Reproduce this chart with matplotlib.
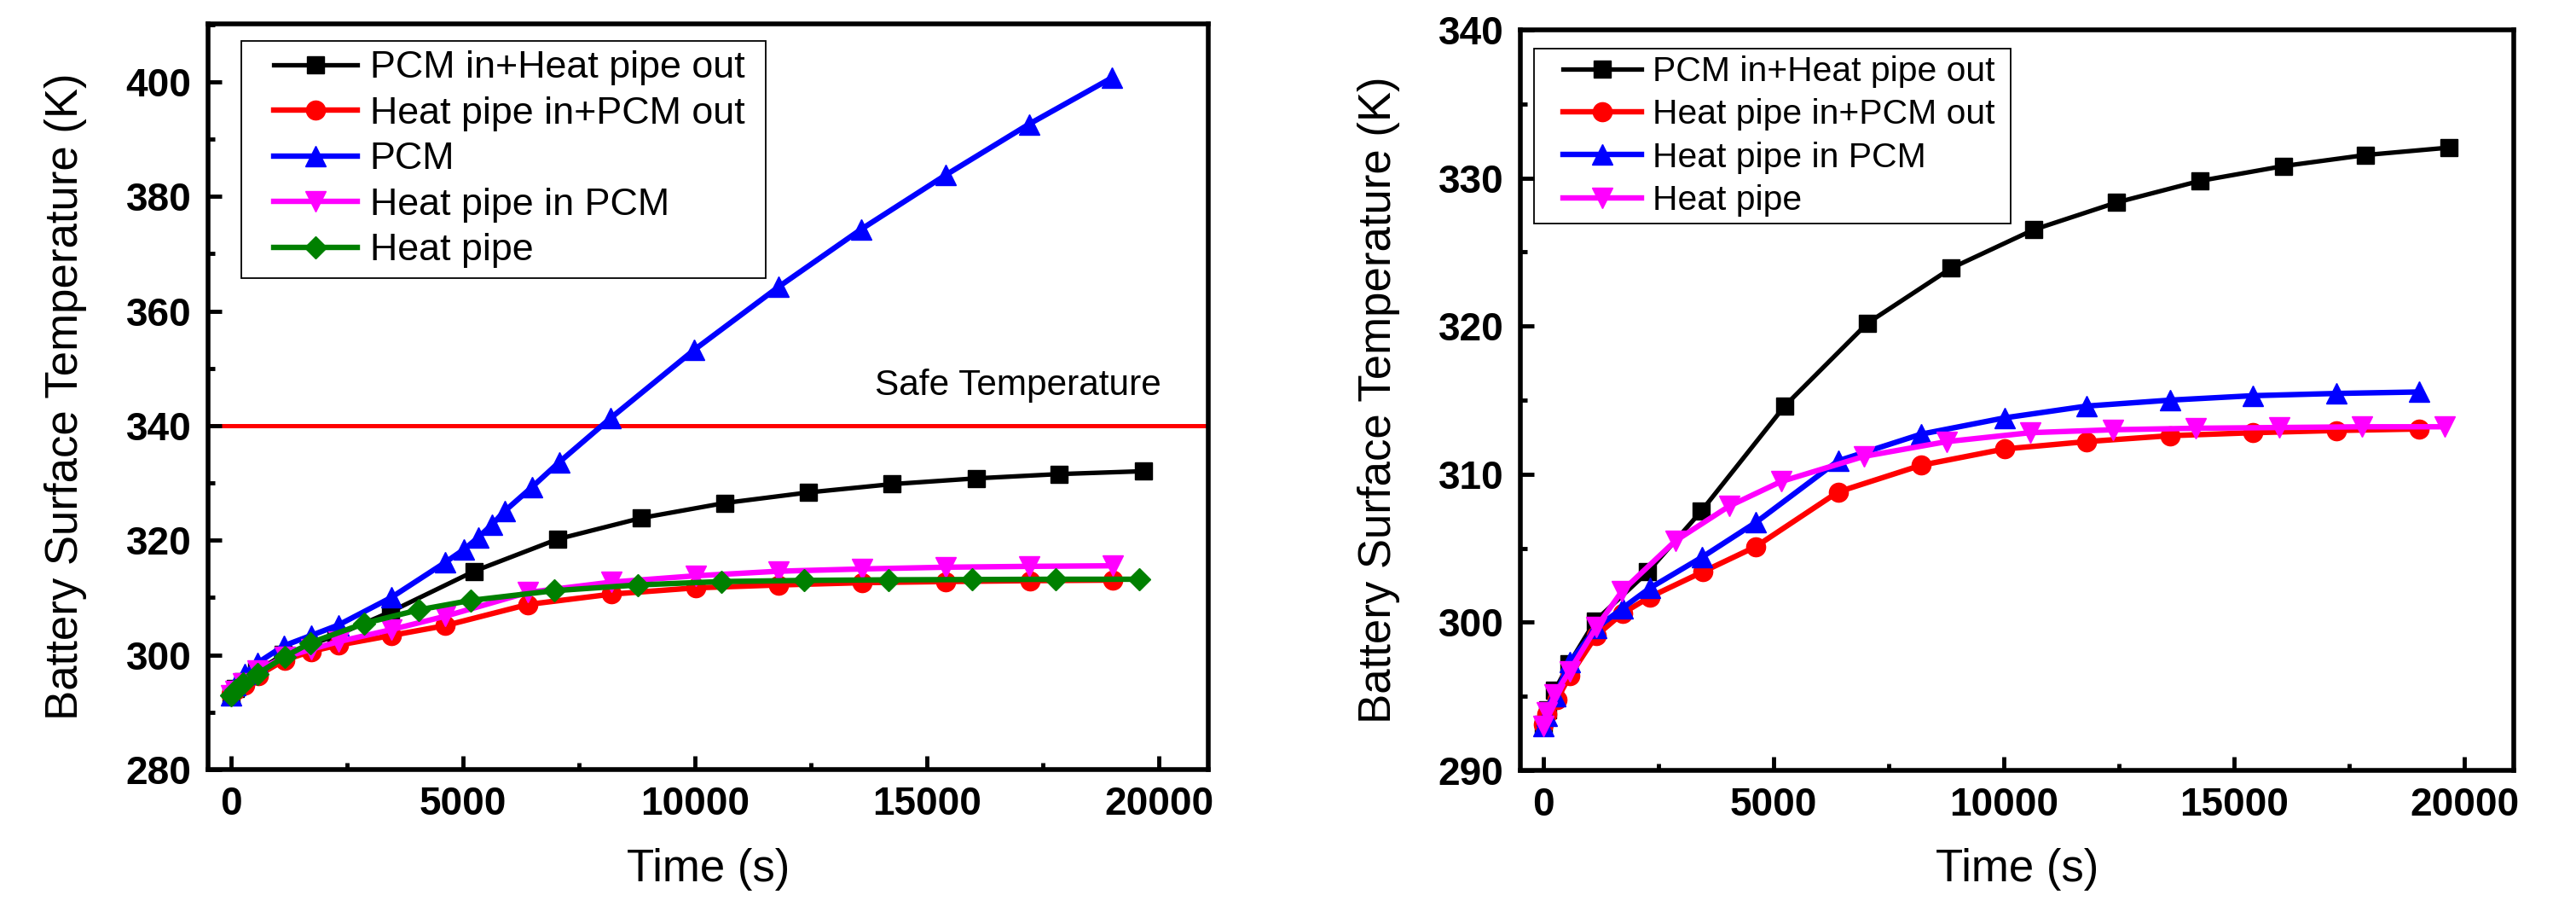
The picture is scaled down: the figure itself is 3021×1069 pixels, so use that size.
import matplotlib
matplotlib.use("Agg")
import matplotlib.pyplot as plt
from matplotlib.ticker import MultipleLocator
from matplotlib.patches import Rectangle

plt.rcParams['font.family'] = ['Liberation Sans', 'DejaVu Sans']

# ---------------- data ----------------
t_pcm_in_hp_out = [0, 100, 250, 560, 1130, 2270, 3430, 5240, 7040, 8850, 10640, 12450, 14250, 16060, 17850, 19660]
T_pcm_in_hp_out = [293.1, 294.1, 295.4, 297.2, 300.1, 303.4, 307.5, 314.6, 320.2, 323.9, 326.5, 328.35, 329.8, 330.8, 331.55, 332.05]

t_hp_in_pcm_out = [0, 85, 300, 580, 1150, 1720, 2310, 3460, 4610, 6400, 8200, 10010, 11800, 13610, 15410, 17220, 19010]
T_hp_in_pcm_out = [293.1, 293.8, 294.8, 296.4, 299.1, 300.6, 301.7, 303.4, 305.1, 308.8, 310.6, 311.7, 312.2, 312.6, 312.8, 312.95, 313.05]

t_pcm = [0, 100, 290, 570, 1140, 1730, 2310, 3450, 4610, 5020, 5330, 5620, 5900, 6490, 7070, 8180, 9980, 11800, 13590, 15400, 17200, 18990]
T_pcm = [293.0, 294.8, 296.7, 298.6, 301.6, 303.4, 305.2, 310.0, 316.1, 318.4, 320.5, 322.7, 325.1, 329.3, 333.6, 341.3, 353.2, 364.2, 374.3, 383.7, 392.6, 400.7]

t_hp_in_pcm = [0, 85, 260, 570, 1150, 1720, 2310, 3450, 4620, 6400, 8200, 10010, 11800, 13610, 15410, 17210, 19010]
T_hp_in_pcm = [293.0, 293.7, 295.0, 297.3, 299.6, 300.95, 302.3, 304.4, 306.75, 310.9, 312.7, 313.8, 314.6, 315.0, 315.3, 315.45, 315.55]

t_hp = [0, 85, 250, 570, 1150, 1710, 2870, 4040, 5160, 6960, 8760, 10570, 12360, 14170, 15980, 17780, 19570]
T_hp = [293.0, 293.9, 295.1, 296.7, 299.65, 302.1, 305.5, 307.85, 309.5, 311.2, 312.2, 312.8, 313.0, 313.1, 313.15, 313.2, 313.2]

safe_temperature = 340
safe_label = "Safe Temperature"

left_labels = ["PCM in+Heat pipe out", "Heat pipe in+PCM out", "PCM", "Heat pipe in PCM", "Heat pipe"]
right_labels = ["PCM in+Heat pipe out", "Heat pipe in+PCM out", "Heat pipe in PCM", "Heat pipe"]

x_ticks = [0, 5000, 10000, 15000, 20000]
left_y_ticks = [280, 300, 320, 340, 360, 380, 400]
right_y_ticks = [290, 300, 310, 320, 330, 340]

x_label = "Time (s)"
y_label = "Battery Surface Temperature (K)"

# ---------------- styles ----------------
BLACK, RED, BLUE, MAGENTA, GREEN = "#000000", "#FF0000", "#0000FF", "#FF00FF", "#008000"
LW, LW_K = 4.6, 3.8
MS_SQ, MS_O, MS_TRI, MS_D = 14, 16, 17, 13

W, H = 3021, 1069
fig = plt.figure(figsize=(W / 100, H / 100), dpi=100)


def px_axes(x0, y0, x1, y1):
    return fig.add_axes([x0 / W, 1 - y1 / H, (x1 - x0) / W, (y1 - y0) / H])


axL = px_axes(244, 28, 1417, 902)
axR = px_axes(1783, 35, 2948, 903)


def style_axes(ax, yticks, yminor, ylim):
    ax.set_xlim(-496, 21066)
    ax.set_ylim(*ylim)
    ax.set_xticks(x_ticks)
    ax.set_yticks(yticks)
    ax.xaxis.set_minor_locator(MultipleLocator(2500))
    ax.yaxis.set_minor_locator(MultipleLocator(yminor))
    for s in ax.spines.values():
        s.set_linewidth(4.0)
    ax.tick_params(which='both', direction='in', top=False, right=False, width=3.5)
    ax.tick_params(which='major', length=11.5, labelsize=33, pad=14)
    ax.tick_params(which='minor', length=5.5)
    for lab in ax.get_xticklabels() + ax.get_yticklabels():
        lab.set_fontweight('bold')
    ax.set_xlabel(x_label, fontsize=38)
    ax.set_ylabel(y_label, fontsize=38)
    ax.yaxis.set_label_coords(-0.121, 0.5)
    ax.xaxis.set_label_coords(0.5, -0.105)


# ---- left panel ----
axL.plot(t_pcm_in_hp_out, T_pcm_in_hp_out, color=BLACK, lw=LW_K, marker='s', ms=MS_SQ, label=left_labels[0])
axL.plot(t_hp_in_pcm_out, T_hp_in_pcm_out, color=RED, lw=LW, marker='o', ms=MS_O, label=left_labels[1])
axL.plot(t_pcm, T_pcm, color=BLUE, lw=LW, marker='^', ms=MS_TRI, label=left_labels[2])
axL.plot(t_hp_in_pcm, T_hp_in_pcm, color=MAGENTA, lw=LW, marker='v', ms=MS_TRI, label=left_labels[3])
axL.plot(t_hp, T_hp, color=GREEN, lw=LW, marker='D', ms=MS_D, label=left_labels[4])
axL.axhline(safe_temperature, color=RED, lw=3.6, zorder=1)
axL.text(20050, 347, safe_label, ha='right', va='center', fontsize=30.5)
style_axes(axL, left_y_ticks, 10, (280, 410.1))

# ---- right panel ----
axR.plot(t_pcm_in_hp_out, T_pcm_in_hp_out, color=BLACK, lw=LW_K, marker='s', ms=MS_SQ, label=right_labels[0])
axR.plot(t_hp_in_pcm_out, T_hp_in_pcm_out, color=RED, lw=LW, marker='o', ms=MS_O, label=right_labels[1])
axR.plot(t_hp_in_pcm, T_hp_in_pcm, color=BLUE, lw=LW, marker='^', ms=MS_TRI, label=right_labels[2])
axR.plot(t_hp, T_hp, color=MAGENTA, lw=LW, marker='v', ms=MS_TRI, label=right_labels[3])
style_axes(axR, right_y_ticks, 5, (290, 340))


def add_legend(ax, fs, left_px, top_px, ext_left, ext_right, bp, ls, hl, htp):
    leg = ax.legend(loc='upper left', bbox_to_anchor=(left_px / W, 1 - top_px / H),
                    bbox_transform=fig.transFigure, frameon=False, fontsize=fs,
                    borderpad=bp, labelspacing=ls, handlelength=hl, handletextpad=htp,
                    borderaxespad=0)
    return leg, ext_left, ext_right


legs = [
    add_legend(axL, 32.3, 283 + 27, 48, 27, 13, 0.25, 0.28, 2.18, 0.33),
    add_legend(axR, 29.4, 1799 + 26, 57, 26, 10, 0.2, 0.3, 2.25, 0.32),
]

fig.canvas.draw()
inv = fig.transFigure.inverted()
for leg, el, er in legs:
    bb = leg.get_window_extent()
    (x0, y0) = inv.transform((bb.x0 - el, bb.y0))
    (x1, y1) = inv.transform((bb.x1 + er, bb.y1))
    fig.add_artist(Rectangle((x0, y0), x1 - x0, y1 - y0, transform=fig.transFigure,
                             fill=False, ec='black', lw=1.3, zorder=10))

fig.savefig("out.png", dpi=100, facecolor='white')
